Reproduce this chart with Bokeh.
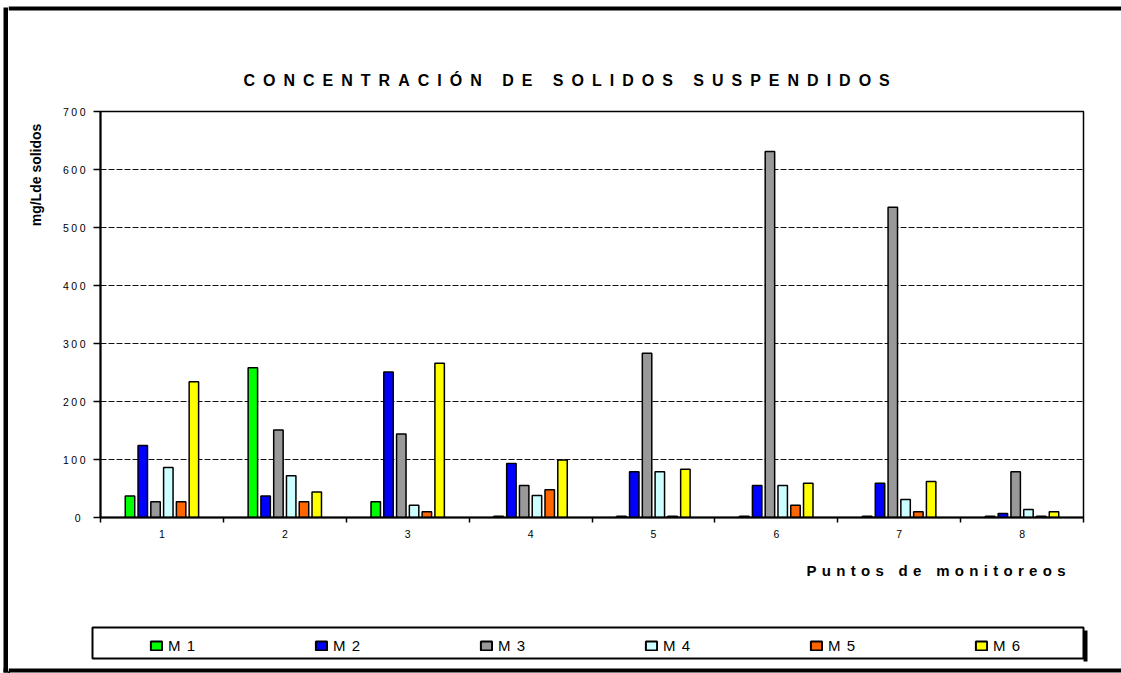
import numpy as np
from bokeh.plotting import figure
from bokeh.layouts import row, column
from bokeh.models import (Range1d, FixedTicker, Label, Legend, LegendItem,
                          BoxAnnotation, ColumnDataSource)
from bokeh.embed import file_html
from bokeh.resources import INLINE

# ---------------- data ----------------
categories = ["1", "2", "3", "4", "5", "6", "7", "8"]
series = ["M 1", "M 2", "M 3", "M 4", "M 5", "M 6"]
m1 = [37, 258, 27, 2, 2, 2, 2, 2]
m2 = [124, 37, 251, 93, 79, 55, 59, 7]
m3 = [27, 151, 144, 55, 283, 631, 535, 79]
m4 = [86, 72, 21, 38, 79, 55, 31, 14]
m5 = [27, 27, 10, 48, 2, 21, 10, 2]
m6 = [234, 44, 266, 99, 83, 59, 62, 10]
y_ticks = [0, 100, 200, 300, 400, 500, 600, 700]
colors = ["#00FF00", "#0000FF", "#999999", "#CCFFFF", "#FF6600", "#FFFF00"]

title_text = "CONCENTRACIÓN DE SOLIDOS SUSPENDIDOS"
x_title = "Puntos de monitoreos"
y_title = "mg/Lde solidos"

FONT = "Liberation Sans"


def blank(w, h, bg="white", spacing=None):
    f = figure(width=w, height=h, x_range=Range1d(0, w), y_range=Range1d(0, h),
               output_backend="svg", toolbar_location=None, min_border=0,
               x_axis_location=None, y_axis_location=None)
    f.xgrid.visible = False
    f.ygrid.visible = False
    f.outline_line_color = None
    f.background_fill_color = bg
    f.border_fill_color = bg
    if spacing:
        f.styles = {"letter-spacing": spacing}
    return f


def black_box(f, left, right, top, bottom):
    f.add_layout(BoxAnnotation(left=left, right=right, top=top, bottom=bottom,
                               fill_color="black", fill_alpha=1.0, line_color=None))


TOTAL_H = 673
CW = 1113          # column width (page x 8 .. 1121)

# ---- left border strip ----
left_fig = blank(8, TOTAL_H)
black_box(left_fig, 3, 8, TOTAL_H - 7, 1)
black_box(left_fig, 3, 8, 5, 1)

# ---- title ----
TH = 100
title_fig = blank(CW, TH, spacing="8px")
black_box(title_fig, 0, CW, TH - 6, TH - 10)
title_fig.add_layout(Label(x=235, y=20, text=title_text, text_font=FONT,
                           text_font_size="16px", text_font_style="bold",
                           text_align="left", text_baseline="middle", text_color="black"))

# ---- y label ----
MH = 448
ylab_fig = blank(47, MH)
ylab_fig.add_layout(Label(x=27, y=378, text=y_title, text_font=FONT,
                          text_font_size="14px", text_font_style="bold", angle=np.pi / 2,
                          text_align="center", text_baseline="middle", text_color="black"))

# ---- main chart ----
MW = CW - 47
p = figure(width=MW, height=MH, x_range=Range1d(0.5, 8.5), y_range=Range1d(0, 700),
           output_backend="svg", toolbar_location=None,
           min_border_left=45, min_border_right=38, min_border_top=11, min_border_bottom=31)
p.styles = {"letter-spacing": "2.5px"}
p.background_fill_color = "white"
p.border_fill_color = "white"
p.outline_line_color = "black"
p.outline_line_width = 1.5

pitch = 0.104
bw = 0.077
xs = np.arange(1, len(categories) + 1)
for j, (vals, col) in enumerate(zip([m1, m2, m3, m4, m5, m6], colors)):
    src = ColumnDataSource(dict(x=xs + (j - 2.5) * pitch, top=vals))
    p.vbar(x="x", top="top", width=bw, bottom=0, source=src,
           fill_color=col, line_color="black", line_width=1.5)

p.xgrid.visible = False
p.ygrid.grid_line_color = "#111111"
p.ygrid.grid_line_dash = "6 2"
p.ygrid.grid_line_width = 1
p.ygrid.ticker = FixedTicker(ticks=y_ticks)

p.yaxis.ticker = FixedTicker(ticks=y_ticks)
p.yaxis.axis_line_width = 2
p.yaxis.major_tick_out = 7
p.yaxis.major_tick_in = 0
p.yaxis.major_tick_line_width = 1.5
p.yaxis.minor_tick_line_color = None
p.yaxis.major_label_standoff = 13
p.yaxis.major_label_text_font = FONT
p.yaxis.major_label_text_font_size = "10.5px"
p.yaxis.major_label_text_color = "black"

p.xaxis.ticker = FixedTicker(ticks=list(xs), minor_ticks=list(np.arange(0.5, 9.0, 1.0)))
p.xaxis.major_label_overrides = {int(i): c for i, c in zip(xs, categories)}
p.xaxis.axis_line_width = 2
p.xaxis.major_tick_line_color = None
p.xaxis.major_tick_out = 5
p.xaxis.major_tick_in = 0
p.xaxis.minor_tick_out = 5
p.xaxis.minor_tick_in = 0
p.xaxis.minor_tick_line_width = 1.5
p.xaxis.minor_tick_line_color = "black"
p.xaxis.major_label_standoff = 7
p.xaxis.major_label_text_font = FONT
p.xaxis.major_label_text_font_size = "10.5px"
p.xaxis.major_label_text_color = "black"

# ---- x label ----
XH = 52
xlab_fig = blank(CW, XH, spacing="5.3px")
xlab_fig.add_layout(Label(x=798, y=30, text=x_title, text_font=FONT,
                          text_font_size="15px", text_font_style="bold",
                          text_align="left", text_baseline="middle", text_color="black"))

# ---- legend ----
LH = TOTAL_H - TH - MH - XH   # 73
leg_fig = blank(CW, LH, spacing="1px")
black_box(leg_fig, 0, CW, 5, 1)                       # bottom border
black_box(leg_fig, 1075, 1079, LH - 30, LH - 61)      # legend shadow
leg_fig.add_layout(BoxAnnotation(left=84, right=1075, top=LH - 27, bottom=LH - 58,
                                 fill_color="white", fill_alpha=1.0,
                                 line_color="black", line_alpha=1.0, line_width=2))
# legend swatches: renderers whose only point lies outside the visible range
leg_renderers = [leg_fig.vbar(x=[-100], top=[1], width=1, fill_color=c, line_color="black",
                              line_width=2) for c in colors]
legend = Legend(items=[LegendItem(label=s, renderers=[r]) for s, r in zip(series, leg_renderers)],
                orientation="horizontal", location=(141, 19),
                glyph_width=14, glyph_height=11, label_standoff=5, label_width=41,
                spacing=105, padding=0, margin=0,
                border_line_color=None, background_fill_alpha=0,
                label_text_font=FONT, label_text_font_size="15px", label_text_color="black")
leg_fig.add_layout(legend)

layout = row(left_fig,
             column(title_fig, row(ylab_fig, p), xlab_fig, leg_fig))

open("out.html", "w").write(file_html(layout, INLINE))
